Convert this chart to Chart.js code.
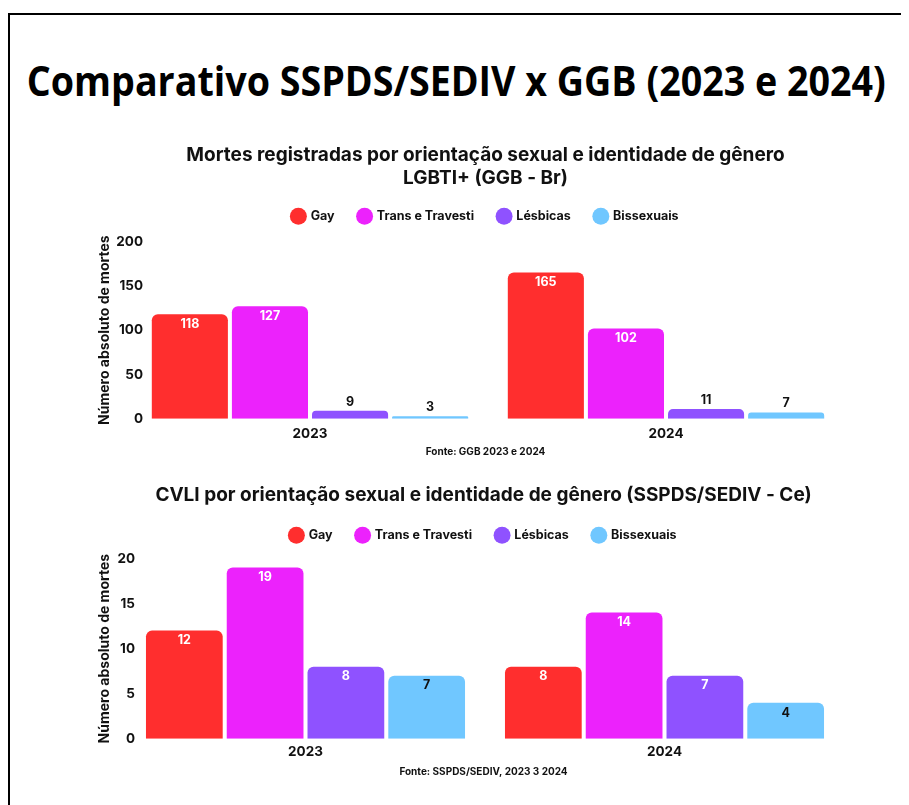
<!DOCTYPE html>
<html><head><meta charset="utf-8">
<script src="https://cdn.jsdelivr.net/npm/chart.js@4.4.0/dist/chart.umd.min.js"></script>
<style>
html,body{margin:0;padding:0;background:#fff;width:909px;height:805px;overflow:hidden;}
#frame{position:absolute;left:8px;top:13px;width:891px;height:800px;border-top:2px solid #000;border-left:2px solid #000;}
#main{position:absolute;left:-300px;top:52px;width:1513px;text-align:center;font-family:"Open Sans";font-weight:700;font-size:42px;line-height:56px;color:#000;white-space:nowrap;}
#mt{display:inline-block;transform-origin:center center;}
.cw{position:absolute;left:0;width:909px;}
</style></head><body>
<div id="frame"></div>
<div id="main"><span id="mt">Comparativo SSPDS/SEDIV x GGB (2023 e 2024)</span></div>
<div class="cw" style="top:135px;height:330px"><canvas id="c1"></canvas></div>
<div class="cw" style="top:470px;height:320px"><canvas id="c2"></canvas></div>
<script>
// ---- data ----
const categories = ['2023', '2024'];
const seriesNames = ['Gay', 'Trans e Travesti', 'Lésbicas', 'Bissexuais'];
const ggbGay = [118, 165];
const ggbTrans = [127, 102];
const ggbLesbicas = [9, 11];
const ggbBissexuais = [3, 7];
const sspdsGay = [12, 8];
const sspdsTrans = [19, 14];
const sspdsLesbicas = [8, 7];
const sspdsBissexuais = [7, 4];
const ggbTicks = [0, 50, 100, 150, 200];
const sspdsTicks = [0, 5, 10, 15, 20];
const title1 = ['Mortes registradas por orientação sexual e identidade de gênero', 'LGBTI+ (GGB - Br)'];
const title2 = 'CVLI por orientação sexual e identidade de gênero (SSPDS/SEDIV - Ce)';
const source1 = 'Fonte: GGB 2023 e 2024';
const source2 = 'Fonte: SSPDS/SEDIV, 2023 3 2024';
const yTitle = 'Número absoluto de mortes';

// ---- style ----
const barColors = ['#FF2E2E', '#EC22FC', '#8F52FF', '#70C7FF'];
const insideLabelColors = ['#FFFFFF', '#FFFFFF', '#FFFFFF', '#111111'];
const FONT = 'Inter';
const TICK_FONT_SIZE = 13.5;
const Y_TITLE_SIZE = 14;

const valueLabels = {
  id: 'valueLabels',
  afterDatasetsDraw(chart) {
    const ctx = chart.ctx;
    ctx.save();
    ctx.font = '700 12.5px ' + FONT;
    ctx.textAlign = 'center';
    ctx.textBaseline = 'middle';
    chart.data.datasets.forEach((ds, i) => {
      const meta = chart.getDatasetMeta(i);
      meta.data.forEach((bar, j) => {
        const v = ds.data[j];
        const h = bar.base - bar.y;
        if (h < 22) {
          ctx.fillStyle = '#111111';
          ctx.fillText(String(v), bar.x, bar.y - 9);
        } else {
          ctx.fillStyle = insideLabelColors[i];
          ctx.fillText(String(v), bar.x, bar.y + 10);
        }
      });
    });
    ctx.restore();
  }
};

function legendSpacer(extra) {
  return {
    id: 'legendSpacer',
    beforeInit(chart) {
      const fit = chart.legend.fit;
      chart.legend.fit = function () {
        fit.bind(chart.legend)();
        this.height += extra;
      };
    }
  };
}

function widestTick(ticks) {
  const c = document.createElement('canvas').getContext('2d');
  c.font = '700 ' + TICK_FONT_SIZE + 'px ' + FONT;
  return Math.max(...ticks.map(t => c.measureText(String(t)).width));
}

function makeChart(id, series, ticks, title, source, g) {
  const datasets = series.map((data, i) => ({
    label: seriesNames[i],
    data: data,
    backgroundColor: barColors[i],
    borderRadius: { topLeft: 6, topRight: 6, bottomLeft: 0, bottomRight: 0 },
    borderSkipped: 'bottom',
    categoryPercentage: 0.9,
    barPercentage: 0.95
  }));
  const yTitleLH = Y_TITLE_SIZE * 1.2;
  const tickPad = g.tickRight - g.chartLeft - widestTick(ticks);
  return new Chart(document.getElementById(id), {
    type: 'bar',
    data: { labels: categories, datasets },
    plugins: [valueLabels, legendSpacer(g.legendExtra)],
    options: {
      responsive: true,
      maintainAspectRatio: false,
      animation: false,
      events: [],
      layout: { padding: { left: g.padLeft, right: g.padRight, top: 0, bottom: 0 } },
      plugins: {
        tooltip: { enabled: false },
        title: {
          display: true, text: title, color: '#111',
          font: { family: FONT, weight: '700', size: 19, lineHeight: 1.2 },
          padding: { top: g.titleTop, bottom: g.titleBottom }
        },
        subtitle: {
          display: true, position: 'bottom', text: source, color: '#111',
          font: { family: FONT, weight: '700', size: 10, lineHeight: 1.2 },
          padding: { top: g.srcTop, bottom: g.srcBottom }
        },
        legend: {
          display: true, position: 'top',
          labels: {
            usePointStyle: true, pointStyle: 'circle', boxWidth: 12, boxHeight: 12,
            color: '#111', padding: 24,
            font: { family: FONT, weight: '700', size: 12.5 }
          }
        }
      },
      scales: {
        x: {
          grid: { display: false, drawTicks: false }, border: { display: false },
          ticks: { color: '#111', padding: g.xPad, font: { family: FONT, weight: '700', size: TICK_FONT_SIZE } }
        },
        y: {
          min: ticks[0], max: ticks[ticks.length - 1],
          afterFit(scale) { scale.width = g.chartLeft - g.padLeft; },
          afterBuildTicks(scale) { scale.ticks = ticks.map(v => ({ value: v })); },
          grid: { display: false, drawTicks: false }, border: { display: false },
          ticks: { color: '#111', mirror: true, crossAlign: 'far', padding: tickPad,
                   font: { family: FONT, weight: '700', size: TICK_FONT_SIZE } },
          title: {
            display: true, text: yTitle, color: '#111',
            font: { family: FONT, weight: '700', size: Y_TITLE_SIZE, lineHeight: 1.2 },
            padding: { top: (g.yTitleX - g.padLeft) - yTitleLH / 2, bottom: 0 }
          }
        }
      }
    }
  });
}

function draw() {
  makeChart('c1', [ggbGay, ggbTrans, ggbLesbicas, ggbBissexuais], ggbTicks, title1, source1,
    { padLeft: 127, padRight: 65, chartLeft: 132, tickRight: 143, yTitleX: 105, xPad: 7,
      titleTop: 8.6, titleBottom: -3.2, srcTop: -3, srcBottom: 7, legendExtra: 9 });
  makeChart('c2', [sspdsGay, sspdsTrans, sspdsLesbicas, sspdsBissexuais], sspdsTicks, title2, source2,
    { padLeft: 123, padRight: 65, chartLeft: 126, tickRight: 135, yTitleX: 105, xPad: 5,
      titleTop: 13.6, titleBottom: -1.4, srcTop: 1, srcBottom: 12, legendExtra: 7 });
  const mt = document.getElementById('mt');
  const w = mt.getBoundingClientRect().width;
  mt.style.transform = 'scaleX(' + (859 / w) + ')';
}
if (document.fonts && document.fonts.load) {
  document.fonts.load('700 17px Inter').then(() => document.fonts.load('700 42px "Open Sans"')).then(draw, draw);
} else { draw(); }
</script>
</body></html>
